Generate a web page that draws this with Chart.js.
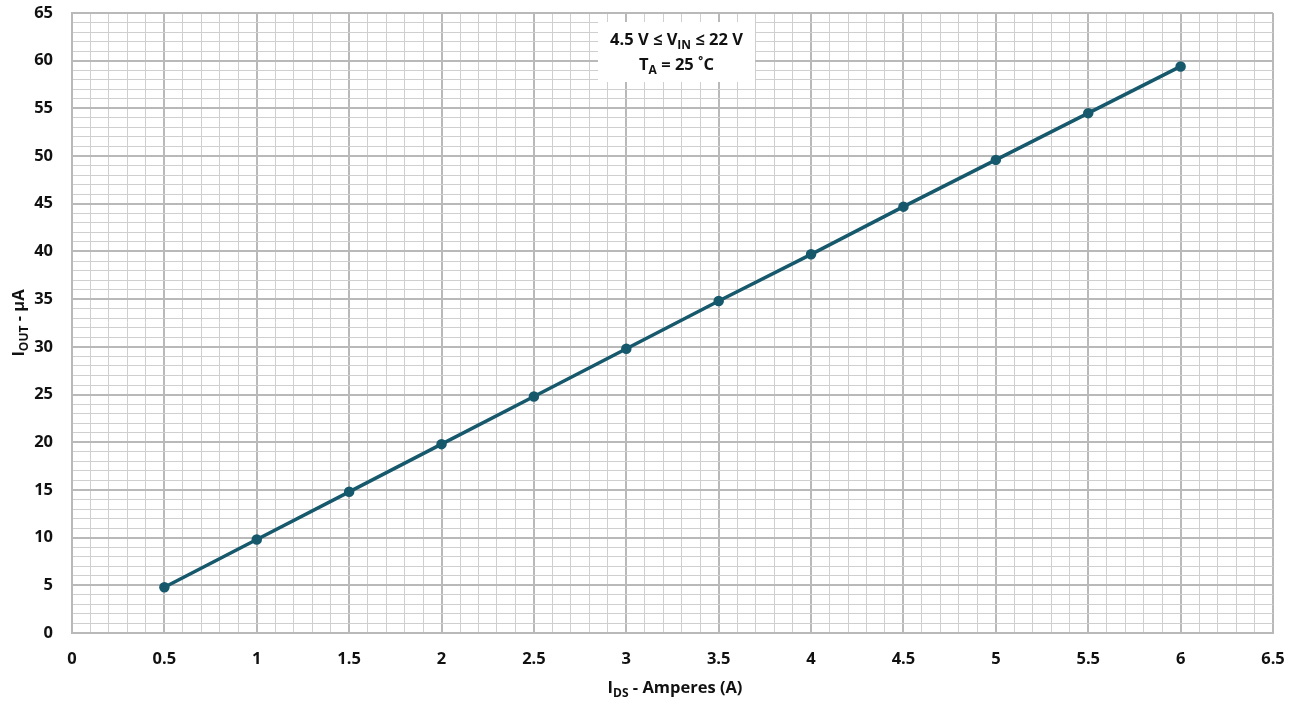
<!DOCTYPE html>
<html>
<head>
<meta charset="utf-8">
<script src="https://cdn.jsdelivr.net/npm/chart.js@4"></script>
<style>
  html, body { margin: 0; padding: 0; background: #fff; }
  #wrap { width: 1300px; height: 702px; }
</style>
</head>
<body>
<div id="wrap"><canvas id="c" width="1300" height="702"></canvas></div>
<script>
// I_DS (A) vs I_OUT (uA)
const idsAmps = [0.5, 1, 1.5, 2, 2.5, 3, 3.5, 4, 4.5, 5, 5.5, 6];
const ioutMicroAmps = [4.8, 9.8, 14.8, 19.8, 24.8, 29.8, 34.8, 39.7, 44.7, 49.6, 54.5, 59.4];
const xTickRange = [0, 6.5];   // labels every 0.5, grid every 0.1
const yTickRange = [0, 65];    // labels every 5, grid every 1

const FONT = "'Open Sans', sans-serif";
const LINE_COLOR = '#16586c';
const GRID_MINOR = '#cfcfcf';
const GRID_MAJOR = '#b9b9b9';

const isMult = (v, step) => Math.abs(v / step - Math.round(v / step)) < 1e-6;

// draws text with a subscript part: parts = [[text, isSub], ...]
function drawRich(ctx, parts, x, y, size, align) {
  const main = 'bold ' + size + 'px ' + FONT;
  const sub = 'bold ' + Math.round(size * 0.72) + 'px ' + FONT;
  let total = 0;
  parts.forEach(p => { ctx.font = p[1] ? sub : main; total += ctx.measureText(p[0]).width; });
  let cx = align === 'center' ? x - total / 2 : x;
  ctx.textAlign = 'left';
  ctx.textBaseline = 'alphabetic';
  parts.forEach(p => {
    ctx.font = p[1] ? sub : main;
    ctx.fillText(p[0], cx, p[1] ? y + size * 0.25 : y);
    cx += ctx.measureText(p[0]).width;
  });
}

const labelsPlugin = {
  id: 'labels',
  afterDraw(chart) {
    const ctx = chart.ctx;
    const area = chart.chartArea;
    ctx.save();
    ctx.fillStyle = '#111';
    // x axis title
    drawRich(ctx, [['I', false], ['DS', true], [' - Amperes (A)', false]],
      675, 693, 16.5, 'center');
    // y axis title (rotated)
    ctx.translate(24, (area.top + area.bottom) / 2);
    ctx.rotate(-Math.PI / 2);
    drawRich(ctx, [['I', false], ['OUT', true], [' - \u00b5A', false]], 0, 0, 16.5, 'center');
    ctx.restore();

    // condition box
    ctx.save();
    const bx = 598, by = 22, bw = 157, bh = 60;
    ctx.fillStyle = '#fff';
    ctx.fillRect(bx, by, bw, bh);
    ctx.fillStyle = '#111';
    drawRich(ctx, [['4.5 V \u2264 V', false], ['IN', true], [' \u2264 22 V', false]], bx + bw / 2, 45, 16.5, 'center');
    drawRich(ctx, [['T', false], ['A', true], [' = 25 \u02daC', false]], bx + bw / 2, 70, 16.5, 'center');
    ctx.restore();
  }
};

new Chart(document.getElementById('c'), {
  type: 'line',
  data: {
    datasets: [{
      data: idsAmps.map((x, i) => ({ x: x, y: ioutMicroAmps[i] })),
      borderColor: LINE_COLOR,
      backgroundColor: LINE_COLOR,
      borderWidth: 3.5,
      pointRadius: 3.5,
      pointHoverRadius: 3.5,
      tension: 0
    }]
  },
  options: {
    responsive: false,
    animation: false,
    layout: { padding: { top: 13, right: 27, left: 0, bottom: 0 } },
    plugins: { legend: { display: false }, tooltip: { enabled: false } },
    scales: {
      x: {
        type: 'linear',
        min: xTickRange[0],
        max: xTickRange[1],
        afterFit(s) { s.height = 69; s.paddingLeft = 0; s.paddingRight = 0; },
        border: { color: GRID_MAJOR, width: 2 },
        grid: {
          drawTicks: false,
          color: c => isMult(c.tick.value, 0.5) ? GRID_MAJOR : GRID_MINOR,
          lineWidth: c => isMult(c.tick.value, 0.5) ? 2 : 1
        },
        ticks: {
          stepSize: 0.1,
          autoSkip: false,
          maxRotation: 0,
          padding: 16,
          color: '#111',
          font: { family: FONT, size: 16.5, weight: 'bold' },
          callback: v => isMult(v, 0.5) ? String(Math.round(v * 10) / 10) : ''
        }
      },
      y: {
        min: yTickRange[0],
        max: yTickRange[1],
        afterFit(s) { s.width = 72; s.paddingTop = 0; s.paddingBottom = 0; },
        border: { color: GRID_MAJOR, width: 2 },
        grid: {
          drawTicks: false,
          color: c => isMult(c.tick.value, 5) ? GRID_MAJOR : GRID_MINOR,
          lineWidth: c => isMult(c.tick.value, 5) ? 2 : 1
        },
        ticks: {
          stepSize: 1,
          autoSkip: false,
          padding: 19,
          color: '#111',
          font: { family: FONT, size: 16.5, weight: 'bold' },
          callback: v => isMult(v, 5) ? String(Math.round(v)) : ''
        }
      }
    }
  },
  plugins: [labelsPlugin]
});
</script>
</body>
</html>
